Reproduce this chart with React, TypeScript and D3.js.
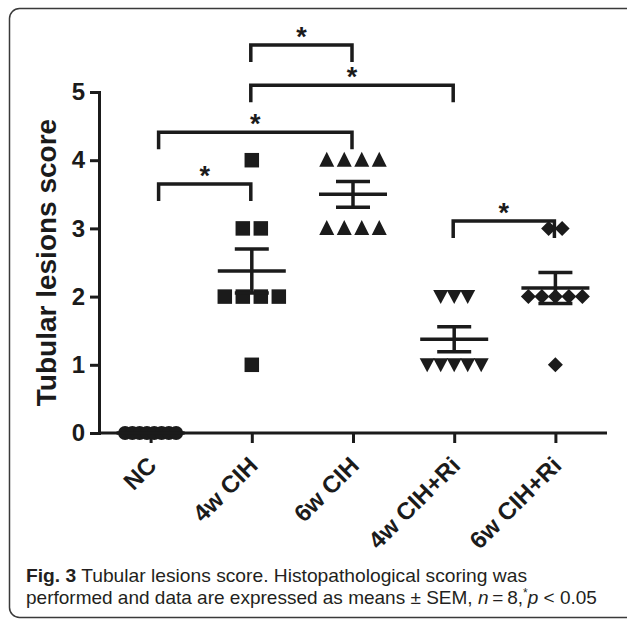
import React, { useEffect, useRef } from "react";
import * as d3 from "d3";

// ---- data ----
const categories = ["NC", "4w CIH", "6w CIH", "4w CIH+Ri", "6w CIH+Ri"];
const ncScores = [0, 0, 0, 0, 0, 0, 0, 0];
const cih4wScores = [4, 3, 3, 2, 2, 2, 2, 1];
const cih6wScores = [4, 4, 4, 4, 3, 3, 3, 3];
const ri4wScores = [2, 2, 2, 1, 1, 1, 1, 1];
const ri6wScores = [3, 3, 2, 2, 2, 2, 2, 1];
const groupScores = [ncScores, cih4wScores, cih6wScores, ri4wScores, ri6wScores];
const yTicks = [0, 1, 2, 3, 4, 5];
const sigPairs: [string, string][] = [
  ["NC", "4w CIH"],
  ["NC", "6w CIH"],
  ["4w CIH", "4w CIH+Ri"],
  ["4w CIH", "6w CIH"],
  ["4w CIH+Ri", "6w CIH+Ri"],
];
const sigLevels = [3.65, 4.41, 5.1, 5.69, 3.11];
const sigLabels = ["*", "*", "*", "*", "*"];
const yLabel = "Tubular lesions score";

// ---- style ----
const W = 627;
const H = 620;
const INK = "#1b1b1b";
const symbols = ["circle", "square", "triUp", "triDown", "diamond"];
const spacing = [7.3, 18, 17.5, 13.5, 13.5];
const FONT = "'Liberation Sans', Arial, Helvetica, sans-serif";
const CAP_FONT = "'Liberation Sans', Arial, sans-serif";

const x = d3.scalePoint<string>().domain(categories).range([100, 606]).padding(0.5);
const y = d3.scaleLinear().domain([0, 5]).range([433, 92]);

function spread(values: number[], sp: number) {
  const counts = new Map<number, number>();
  values.forEach((v) => counts.set(v, (counts.get(v) || 0) + 1));
  const seen = new Map<number, number>();
  return values.map((v) => {
    const n = counts.get(v)!;
    const i = seen.get(v) || 0;
    seen.set(v, i + 1);
    return { v, dx: (i - (n - 1) / 2) * sp };
  });
}

function Marker({ type, cx, cy }: { type: string; cx: number; cy: number }) {
  const t = `translate(${cx},${cy})`;
  if (type === "circle") return <circle cx={cx} cy={cy} r={7} fill={INK} />;
  if (type === "square")
    return <rect x={cx - 7.25} y={cy - 7.25} width={14.5} height={14.5} fill={INK} />;
  if (type === "triUp") return <path transform={t} d="M0,-8.5L7.5,6.5L-7.5,6.5Z" fill={INK} />;
  if (type === "triDown") return <path transform={t} d="M0,7.5L7.5,-6.5L-7.5,-6.5Z" fill={INK} />;
  return <path transform={t} d="M0,-7.5L7.5,0L0,7.5L-7.5,0Z" fill={INK} />;
}

export default function App() {
  const yAxisRef = useRef<SVGGElement>(null);
  const xAxisRef = useRef<SVGGElement>(null);

  useEffect(() => {
    const ya = d3.select(yAxisRef.current!);
    ya.call(d3.axisLeft(y).tickValues(yTicks).tickSize(9).tickSizeOuter(0).tickPadding(5).tickFormat(d3.format("d")) as any);
    ya.selectAll("path, line").attr("stroke", INK).attr("stroke-width", 3);
    ya.select(".domain").attr("stroke-linecap", "square");
    ya.selectAll("text").attr("font-family", FONT).attr("font-weight", "bold").attr("font-size", 24).attr("fill", INK);

    const xa = d3.select(xAxisRef.current!);
    xa.call(d3.axisBottom(x).tickSize(10).tickSizeOuter(0) as any);
    xa.select(".domain").attr("d", "M99,0H607").attr("stroke", INK).attr("stroke-width", 3);
    xa.selectAll("line").attr("stroke", INK).attr("stroke-width", 3);
    xa.selectAll("text")
      .attr("font-family", FONT)
      .attr("font-weight", "bold")
      .attr("font-size", 24)
      .attr("fill", INK)
      .attr("text-anchor", "end")
      .attr("x", 0)
      .attr("y", 0)
      .attr("dy", 0)
      .attr("transform", "translate(7,34) rotate(-45)");
  }, []);

  return (
    <svg width={W} height={H} style={{ position: "absolute", left: 0, top: 0, background: "#fff" }}>
      <rect x={9.5} y={8.5} width={640} height={609} rx={10} fill="none" stroke="#3a3a3a" strokeWidth={1.5} />

      <g ref={yAxisRef} transform="translate(99,0)" />
      <g ref={xAxisRef} transform="translate(0,433)" />

      <text
        transform={`translate(56,${(y(0) + y(5)) / 2}) rotate(-90)`}
        textAnchor="middle"
        fontFamily={FONT}
        fontWeight="bold"
        fontSize={28}
        fill={INK}
      >
        {yLabel}
      </text>

      {/* scatter points */}
      {groupScores.map((vals, gi) => {
        const cx0 = x(categories[gi])!;
        return (
          <g key={gi}>
            {spread(vals, spacing[gi]).map((p, i) => (
              <Marker key={i} type={symbols[gi]} cx={cx0 + p.dx} cy={y(p.v)} />
            ))}
          </g>
        );
      })}

      {/* mean ± SEM */}
      {groupScores.map((vals, gi) => {
        const cx0 = x(categories[gi])!;
        const m = d3.mean(vals)!;
        const sd = d3.deviation(vals) || 0;
        const sem = sd / Math.sqrt(vals.length);
        return (
          <g key={gi} stroke={INK} strokeWidth={3.5} fill="none">
            <line x1={cx0 - 34} x2={cx0 + 34} y1={y(m)} y2={y(m)} />
            {sem > 0 && (
              <>
                <line x1={cx0} x2={cx0} y1={y(m - sem)} y2={y(m + sem)} />
                <line x1={cx0 - 17} x2={cx0 + 17} y1={y(m + sem)} y2={y(m + sem)} />
                <line x1={cx0 - 17} x2={cx0 + 17} y1={y(m - sem)} y2={y(m - sem)} />
              </>
            )}
          </g>
        );
      })}

      {/* significance brackets */}
      {sigPairs.map(([a, b], i) => {
        const x1 = x(a)! + (a === "NC" ? 8 : -1);
        const x2 = x(b)! - 1;
        const yt = y(sigLevels[i]);
        const yb = yt + 17;
        return (
          <g key={i}>
            <path
              d={`M${x1},${yb}V${yt}H${x2}V${yb}`}
              fill="none"
              stroke={INK}
              strokeWidth={3.5}
            />
            <text
              x={(x1 + x2) / 2}
              y={yt + 1}
              textAnchor="middle"
              fontFamily={FONT}
              fontWeight="bold"
              fontSize={27}
              fill={INK}
            >
              {sigLabels[i]}
            </text>
          </g>
        );
      })}

      {/* caption */}
      <text x={26} y={582} fontFamily={CAP_FONT} fontSize={18.5} fill="#231f20" textLength={501} lengthAdjust="spacingAndGlyphs">
        <tspan fontWeight="bold">Fig. 3</tspan> Tubular lesions score. Histopathological scoring was
      </text>
      <text x={26} y={604} fontFamily={CAP_FONT} fontSize={19} fill="#231f20">
        {"performed and data are expressed as means ± SEM, "}
        <tspan fontStyle="italic">n</tspan>
        {"\u2009=\u20098,"}
        <tspan fontSize={12} dy={-7}>*</tspan>
        <tspan fontStyle="italic" dy={7}>p</tspan>
        {" < 0.05"}
      </text>
    </svg>
  );
}
